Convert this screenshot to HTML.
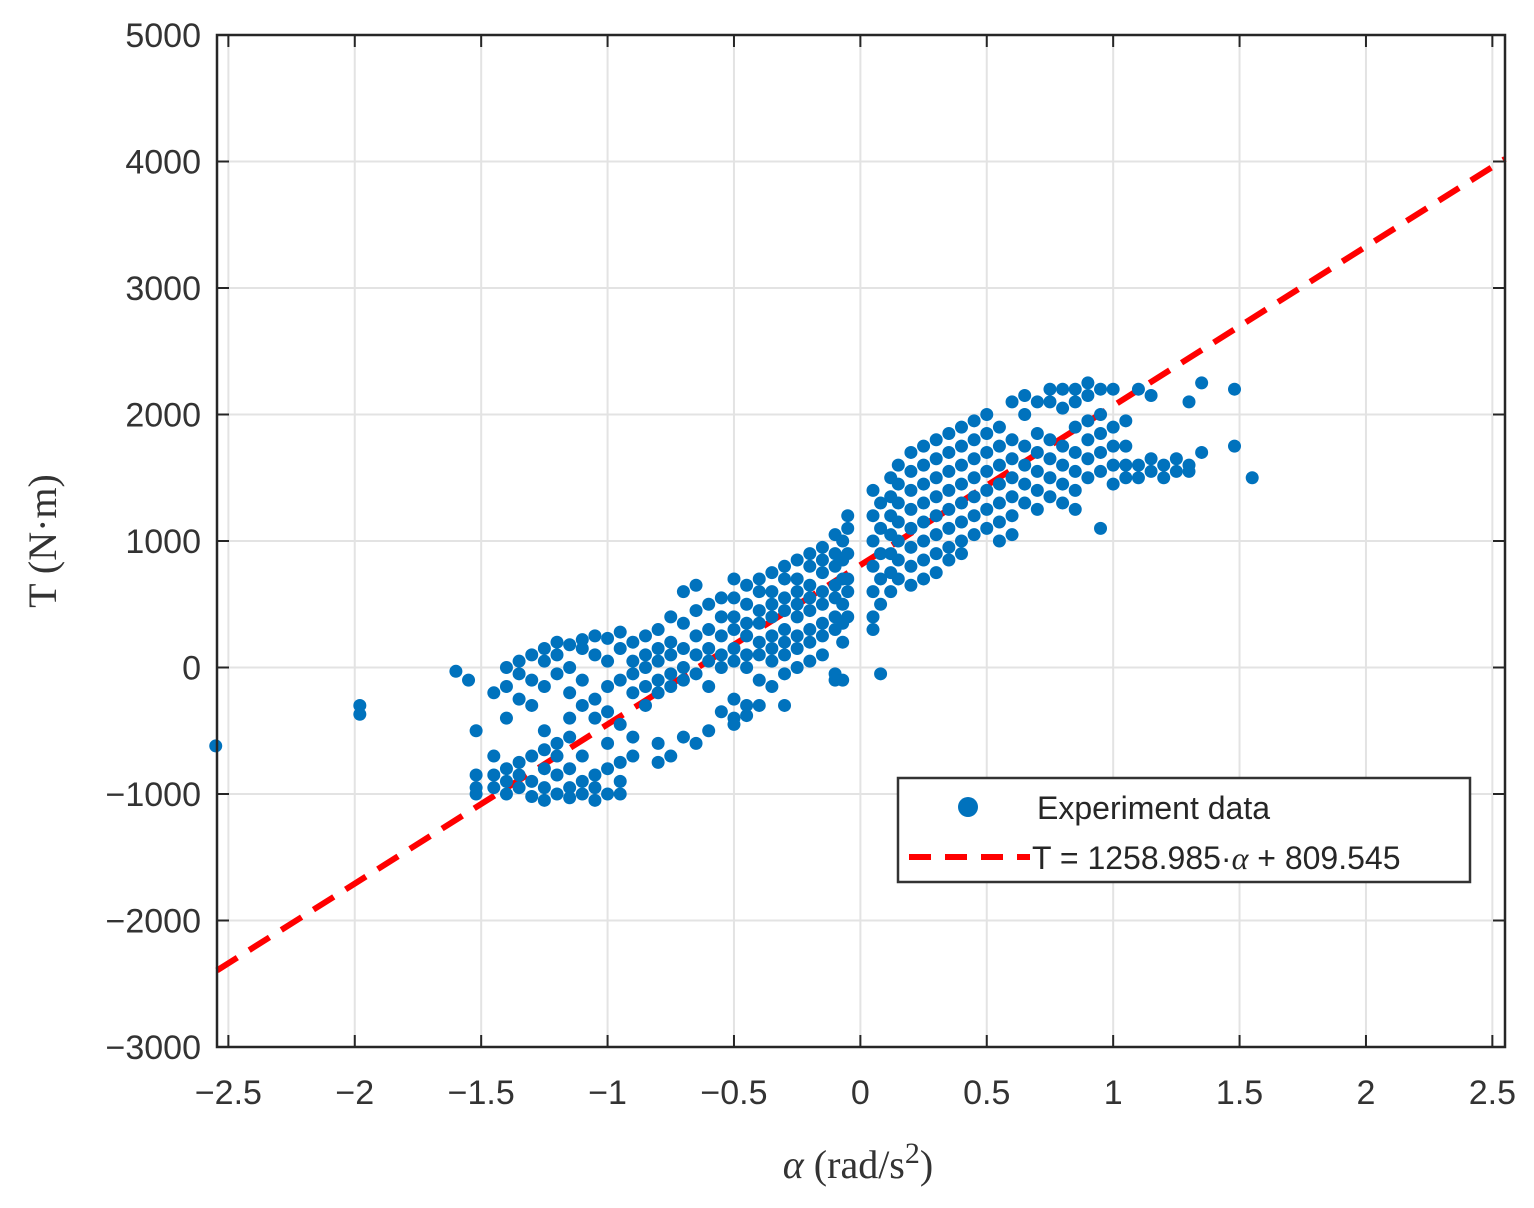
<!DOCTYPE html>
<html><head><meta charset="utf-8"><style>
html,body{margin:0;padding:0;background:#fff;width:1534px;height:1208px;overflow:hidden}
svg text{font-family:"Liberation Sans",sans-serif}
</style></head><body>
<svg id="chart" width="1534" height="1208" xmlns="http://www.w3.org/2000/svg">
<g id="grid"></g>
<g id="fit"></g>
<g id="pts"></g>
<g id="axes"></g>
<text x="858" y="1178" text-anchor="middle" style="font-family:'Liberation Serif',serif" font-size="40" fill="#333"><tspan font-style="italic">α</tspan> (rad/s<tspan dy="-15" font-size="30">2</tspan><tspan dy="15">)</tspan></text>
<text transform="translate(56,541) rotate(-90)" text-anchor="middle" style="font-family:'Liberation Serif',serif" font-size="40" fill="#333">T (N·m)</text>
<g>
<rect x="898" y="778" width="572" height="104" fill="#fff" stroke="#333" stroke-width="2.5"/>
<circle cx="968" cy="807" r="10" fill="#0072bd"/>
<text x="1037" y="819" font-size="32" fill="#262626">Experiment data</text>
<line x1="909" y1="857" x2="1030" y2="857" stroke="#ff0000" stroke-width="6" stroke-dasharray="22,14"/>
<text x="1032" y="869" font-size="32" fill="#262626">T = 1258.985·<tspan style="font-family:'Liberation Serif',serif" font-style="italic">α</tspan> + 809.545</text>
</g>
</svg>
<script>
const xTicks=[-2.5,-2,-1.5,-1,-0.5,0,0.5,1,1.5,2,2.5];
const yTicks=[-3000,-2000,-1000,0,1000,2000,3000,4000,5000];
const fitSlope=1258.985, fitIntercept=809.545;
const outlierAlpha=[-2.55,-1.98,-1.98,-1.6,-1.55,0.08,1.55];
const outlierTorque=[-620,-300,-370,-30,-100,-50,1500];
const streakAlpha=[-1.52,-1.45,-1.4,-1.35,-1.3,-1.25,-1.2,-1.15,-1.1,-1.05,-1.0,-0.95,-0.9,-0.85,-0.8,-0.75,-0.7,-0.65,-0.6,-0.55,-0.5,-0.45,-0.4,-0.35,-0.3,-0.25,-0.2,-0.15,-0.1,-0.07,-0.05,0.05,0.08,0.12,0.15,0.2,0.25,0.3,0.35,0.4,0.45,0.5,0.55,0.6,0.65,0.7,0.75,0.8,0.85,0.9,0.95,1.0,1.05,1.1,1.15,1.2,1.25,1.3,1.35,1.48];
const streakTorque=[
[-850,-950,-1000,-500],[-200,-700,-850,-950],[0,-150,-400,-800,-900,-1000],[50,-50,-250,-750,-850,-950],
[100,-100,-300,-700,-900,-1020],[150,50,-150,-500,-650,-800,-950,-1050],[200,100,-50,-600,-700,-850,-1000],
[180,0,-200,-400,-550,-800,-950,-1030],[220,150,-100,-300,-700,-900,-1000],[250,100,-250,-400,-850,-950,-1050],
[230,50,-150,-350,-600,-800,-1000],[280,150,-100,-450,-750,-900,-1000],[200,50,-50,-200,-550,-700],
[250,100,0,-150,-300],[300,150,50,-100,-200,-600,-750],[400,200,100,-50,-150,-700],[600,350,150,0,-100,-550],
[650,450,250,100,-50,-600],[500,300,150,50,-150,-500],[550,400,250,100,0,-350],
[700,550,400,300,150,50,-250,-400,-450],[650,500,350,250,100,0,-300,-380],[700,600,450,350,200,100,-100,-300],
[750,600,500,400,250,150,50,-150],[800,700,550,450,300,200,100,-50,-300],[850,700,600,500,400,250,150,0],
[900,800,650,550,450,300,200,50],[950,850,750,600,500,350,250,100],[1050,900,800,650,550,400,300,-50,-100],
[1000,850,700,500,350,200,-100],[1200,1100,900,700,600,400],
[1400,1200,1000,800,600,400,300],[1300,1100,900,700,500],[1500,1350,1200,1050,900,750,600],
[1600,1450,1300,1150,1000,850,700],[1700,1550,1400,1250,1100,950,800,650],[1750,1600,1450,1300,1150,1000,850,700],
[1800,1650,1500,1350,1200,1050,900,750],[1850,1700,1550,1400,1250,1100,950,850],[1900,1750,1600,1450,1300,1150,1000,900],
[1950,1800,1650,1500,1350,1200,1050],[2000,1850,1700,1550,1400,1250,1100],[1900,1750,1600,1450,1300,1150,1000],
[2100,1800,1650,1500,1350,1200,1050],[2150,2000,1750,1600,1450,1300],[2100,1850,1700,1550,1400,1250],
[2200,2100,1800,1650,1500,1350],[2200,2050,1750,1600,1450,1300],[2200,2100,1900,1700,1550,1400,1250],
[2250,2150,1950,1800,1650,1500],[2200,2000,1850,1700,1550,1100],[2200,1900,1750,1600,1450],
[1950,1750,1600,1500],[2200,1600,1500],[2150,1650,1550],[1600,1500],[1650,1550],[2100,1600,1550],[2250,1700],[2200,1750]];
const L=217,R=1505,T0=35,B=1047,xMin=-2.545,xMax=2.55,yMin=-3000,yMax=5000;
const sx=v=>L+(v-xMin)/(xMax-xMin)*(R-L);
const sy=v=>B-(v-yMin)/(yMax-yMin)*(B-T0);
const NS="http://www.w3.org/2000/svg";
function mk(tag,attrs,parent){const e=document.createElementNS(NS,tag);for(const k in attrs)e.setAttribute(k,attrs[k]);parent.appendChild(e);return e;}
const grid=document.getElementById('grid'),axes=document.getElementById('axes');
mk('rect',{x:L,y:T0,width:R-L,height:B-T0,fill:'#fff'},grid);
xTicks.forEach(t=>{const x=sx(t);
 const g=mk('line',{x1:x,x2:x,y1:T0,y2:B,stroke:'#e3e3e3','stroke-width':2},grid);
 
 mk('line',{x1:x,x2:x,y1:B,y2:B-12,stroke:'#262626','stroke-width':2},axes);
 mk('line',{x1:x,x2:x,y1:T0,y2:T0+12,stroke:'#262626','stroke-width':2},axes);
 const tx=mk('text',{x:x,y:B+57,'text-anchor':'middle','font-size':34,fill:'#333'},axes);
 
 tx.textContent=(t<0?'−':'')+Math.abs(t);});
yTicks.forEach(t=>{const y=sy(t);
 const g=mk('line',{x1:L,x2:R,y1:y,y2:y,stroke:'#e3e3e3','stroke-width':2},grid);
 
 mk('line',{x1:L,x2:L+12,y1:y,y2:y,stroke:'#262626','stroke-width':2},axes);
 mk('line',{x1:R,x2:R-12,y1:y,y2:y,stroke:'#262626','stroke-width':2},axes);
 const tx=mk('text',{x:L-16,y:y+12,'text-anchor':'end','font-size':34,fill:'#333'},axes);
 
 tx.textContent=(t<0?'−':'')+Math.abs(t);});
mk('rect',{x:L,y:T0,width:R-L,height:B-T0,fill:'none',stroke:'#262626','stroke-width':2.5},axes);
const fit=document.getElementById('fit');
const fl=mk('line',{x1:sx(xMin),y1:sy(fitSlope*xMin+fitIntercept),x2:sx(xMax),y2:sy(fitSlope*xMax+fitIntercept),stroke:'#ff0000','stroke-width':6,'stroke-dasharray':'24,14'},fit);

const pts=document.getElementById('pts');
function dot(a,tq){const c=mk('circle',{cx:sx(a),cy:sy(tq),r:6.5,fill:'#0072bd'},pts);
 }
streakAlpha.forEach((a,i)=>streakTorque[i].forEach(tq=>dot(a,tq)));
outlierAlpha.forEach((a,i)=>dot(a,outlierTorque[i]));
</script>
</body></html>
